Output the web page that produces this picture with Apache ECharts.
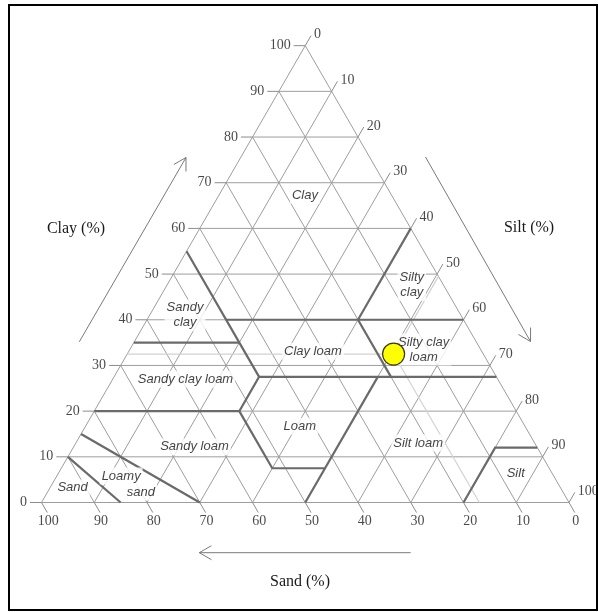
<!DOCTYPE html>
<html>
<head>
<meta charset="utf-8">
<script src="https://cdn.jsdelivr.net/npm/echarts@6/dist/echarts.min.js"></script>
<style>
  html, body { margin: 0; padding: 0; background: #fff; }
  #chart { width: 598px; height: 612px; }
</style>
</head>
<body>
<div id="chart"></div>
<script>
// USDA soil texture triangle. Every composition is [sand, silt, clay] in percent.

const gridSteps = [0, 10, 20, 30, 40, 50, 60, 70, 80, 90];
const tickValues = [0, 10, 20, 30, 40, 50, 60, 70, 80, 90, 100];
const clayTickLabels = ['0', '10', '20', '30', '40', '50', '60', '70', '80', '90', '100'];
const siltTickLabels = ['0', '10', '20', '30', '40', '50', '60', '70', '80', '90', '100'];
const sandTickLabels = ['0', '10', '20', '30', '40', '50', '60', '70', '80', '90', '100'];

// Texture class boundaries as polylines of compositions
const classBoundaries = [
  [[45, 0, 55], [45, 27.5, 27.5], [52.5, 27.5, 20], [52.5, 40, 7.5], [42.5, 50, 7.5]],
  [[65, 0, 35], [45, 20, 35]],
  [[45, 15, 40], [0, 60, 40]],
  [[45, 27.5, 27.5], [0, 72.5, 27.5]],
  [[20, 40, 40], [0, 40, 60]],
  [[20, 40, 40], [20, 52.5, 27.5]],
  [[80, 0, 20], [52.5, 27.5, 20]],
  [[50, 50, 0], [22.5, 50, 27.5]],
  [[20, 80, 0], [8, 80, 12], [0, 88, 12]],
  [[85, 0, 15], [70, 30, 0]],
  [[90, 0, 10], [85, 15, 0]]
];

// Texture class names
const textureClasses = [
  'Clay', 'Silty\nclay', 'Sandy\nclay', 'Clay loam', 'Silty clay\nloam',
  'Sandy clay loam', 'Loam', 'Sandy loam', 'Silt loam', 'Silt', 'Sand', 'Loamy', 'sand'
];
// Where each class name sits, as a composition
const classLabelAnchors = [
  [16.4, 16.3, 67.3], [6.0, 46.4, 47.6], [52.3, 6.7, 41.0], [32.0, 34.9, 33.1], [10.8, 55.7, 33.5],
  [59.2, 13.8, 27.0], [42.7, 40.6, 16.7], [64.9, 22.9, 12.2], [22.1, 64.9, 13.0], [6.9, 86.7, 6.4],
  [92.5, 4.3, 3.2], [82.0, 12.2, 5.8], [80.0, 17.7, 2.3]
];

// Measured sample
const sampleSand = [17];
const sampleSilt = [50.5];
const sampleClay = [32.5];

// ---- ternary -> cartesian (unit side length 100, equilateral) ----
const H = Math.sqrt(3) / 2;
function toXY(c) {
  const silt = c[1], clay = c[2];
  return [silt + clay / 2, clay * H];
}

// Plot frame: 5.275 px per percent, origin (sand 100) at pixel (41.5, 502.5)
const PX = 5.275, OX = 41.5, OY = 502.5, W = 598, HGT = 612;

const TICK = 2.2; // tick length, percent units

const gridLines = [];
gridSteps.forEach(v => {
  gridLines.push({ coords: [toXY([100 - v, 0, v]), toXY([0, 100 - v, v])] });          // clay
  gridLines.push({ coords: [toXY([100 - v, v, 0]), toXY([0, v, 100 - v])] });          // silt
  gridLines.push({ coords: [toXY([v, 100 - v, 0]), toXY([v, 0, 100 - v])] });          // sand
});

const tickLines = [];
const clayTickEnds = [], siltTickEnds = [], sandTickEnds = [];
tickValues.forEach((v, i) => {
  const cEnd = [100 - v + TICK, -TICK, v];
  tickLines.push({ coords: [toXY([100 - v, 0, v]), toXY(cEnd)] });
  clayTickEnds.push({ name: clayTickLabels[i], value: toXY(cEnd) });

  const sEnd = [-TICK, v, 100 - v + TICK];
  tickLines.push({ coords: [toXY([0, v, 100 - v]), toXY(sEnd)] });
  siltTickEnds.push({ name: siltTickLabels[i], value: toXY(sEnd) });

  const aEnd = [v, 100 - v + TICK, -TICK];
  tickLines.push({ coords: [toXY([v, 100 - v, 0]), toXY(aEnd)] });
  sandTickEnds.push({ name: sandTickLabels[i], value: toXY(aEnd) });
});

const boundaryLines = classBoundaries.map(b => ({ coords: b.map(toXY) }));

// Guide lines from the sample to each axis
const sample = [sampleSand[0], sampleSilt[0], sampleClay[0]];
const guideLines = [
  { coords: [toXY([100 - sample[2], 0, sample[2]]), toXY(sample)] },
  { coords: [toXY(sample), toXY([0, sample[1], 100 - sample[1]])] },
  { coords: [toXY(sample), toXY([sample[0], 100 - sample[0], 0])] }
];

const serif = 'Liberation Serif, Times New Roman, serif';
const sans = 'Liberation Sans, Arial, sans-serif';

function tickLabelSeries(data, label) {
  return {
    type: 'scatter', data: data, symbolSize: 0, silent: true, z: 5,
    label: Object.assign({
      show: true, formatter: p => p.name, position: 'inside',
      fontFamily: serif, fontSize: 14, color: '#1a1a1a'
    }, label)
  };
}

function linesSeries(data, color, width, z) {
  return {
    type: 'lines', coordinateSystem: 'cartesian2d', polyline: true, silent: true, z: z,
    data: data, lineStyle: { color: color, width: width, opacity: 1 }, effect: { show: false }
  };
}

const chart = echarts.init(document.getElementById('chart'), null, { renderer: 'canvas' });

// Open arrowhead helper (pixel space annotation)
function arrow(x1, y1, x2, y2) {
  const a = Math.atan2(y2 - y1, x2 - x1), L = 14, sp = Math.PI / 6;
  return [
    { type: 'line', shape: { x1: x1, y1: y1, x2: x2, y2: y2 }, style: { stroke: '#7a7a7a', lineWidth: 1 } },
    { type: 'polyline', shape: { points: [
        [x2 - L * Math.cos(a - sp), y2 - L * Math.sin(a - sp)], [x2, y2],
        [x2 - L * Math.cos(a + sp), y2 - L * Math.sin(a + sp)]] },
      style: { stroke: '#7a7a7a', lineWidth: 1, fill: null } }
  ];
}

chart.setOption({
  animation: false,
  backgroundColor: '#fff',
  grid: { left: 0, right: 0, top: 0, bottom: 0 },
  xAxis: { type: 'value', min: -OX / PX, max: (W - OX) / PX, show: false },
  yAxis: { type: 'value', min: -(HGT - OY) / PX, max: OY / PX, show: false },
  graphic: [
    { type: 'rect', shape: { x: 9, y: 5, width: 588, height: 605 },
      style: { stroke: '#000', lineWidth: 2, fill: null }, z: 100 },
    { type: 'text', x: 76, y: 229, style: { text: 'Clay (%)', font: '16px ' + serif, fill: '#1a1a1a', textAlign: 'center', textVerticalAlign: 'middle' } },
    { type: 'text', x: 529, y: 228, style: { text: 'Silt (%)', font: '16px ' + serif, fill: '#1a1a1a', textAlign: 'center', textVerticalAlign: 'middle' } },
    { type: 'text', x: 300, y: 582, style: { text: 'Sand (%)', font: '16px ' + serif, fill: '#1a1a1a', textAlign: 'center', textVerticalAlign: 'middle' } }
  ].concat(arrow(79.3, 341.8, 186, 157.5), arrow(425.5, 157, 530.5, 341.5), arrow(410.7, 552.7, 199.3, 552.7)),
  series: [
    linesSeries(gridLines, '#9e9e9e', 1, 1),
    linesSeries(tickLines, '#8c8c8c', 1, 1),
    linesSeries(guideLines, '#d2d2d2', 1.2, 2),
    linesSeries(boundaryLines, '#6a6a6a', 2.2, 3),
    tickLabelSeries(clayTickEnds, { align: 'right', verticalAlign: 'middle', offset: [-3, 0] }),
    tickLabelSeries(siltTickEnds, { align: 'left', verticalAlign: 'middle', offset: [3, -1] }),
    tickLabelSeries(sandTickEnds, { align: 'center', verticalAlign: 'top', offset: [1, 2] }),
    {
      type: 'scatter', symbolSize: 0, silent: true, z: 4,
      data: textureClasses.map((n, i) => ({ name: n, value: toXY(classLabelAnchors[i]) })),
      label: {
        show: true, formatter: p => p.name, position: 'inside',
        align: 'center', verticalAlign: 'middle',
        fontFamily: sans, fontStyle: 'italic', fontSize: 13, lineHeight: 15, color: '#111',
        backgroundColor: '#fff', padding: [1, 2]
      }
    },
    {
      type: 'scatter', name: 'Sample', z: 6, silent: true,
      data: sampleSand.map((s, i) => toXY([s, sampleSilt[i], sampleClay[i]])),
      symbol: 'circle', symbolSize: 22,
      itemStyle: { color: '#ffff00', borderColor: '#3a3a1a', borderWidth: 1.2, opacity: 1 }
    }
  ]
});
</script>
</body>
</html>
